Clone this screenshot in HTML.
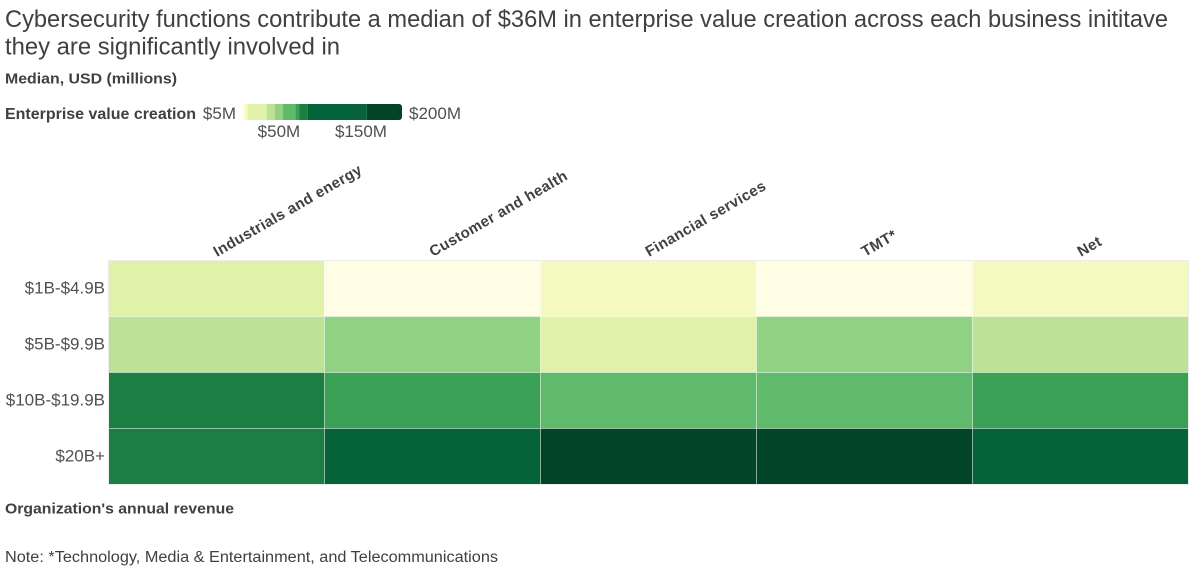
<!DOCTYPE html>
<html>
<head>
<meta charset="utf-8">
<title>Cybersecurity enterprise value heatmap</title>
<style>
html,body{margin:0;padding:0;background:#fff;width:1194px;height:569px;overflow:hidden}
svg{display:block}
text{font-family:"Liberation Sans",sans-serif;fill:#404040}
.b{font-weight:700}
.t{font-size:24px}
.m{font-size:17px;fill:#505050}
</style>
</head>
<body>
<svg id="chart" xmlns="http://www.w3.org/2000/svg" width="1194" height="569" viewBox="0 0 1194 569">
  <text class="t" x="5" y="27" textLength="1163" lengthAdjust="spacingAndGlyphs">Cybersecurity functions contribute a median of $36M in enterprise value creation across each business inititave</text>
  <text class="t" x="5" y="54.5" textLength="335" lengthAdjust="spacingAndGlyphs">they are significantly involved in</text>
  <text class="b" font-size="15" x="5" y="83.5" textLength="172" lengthAdjust="spacingAndGlyphs">Median, USD (millions)</text>
  <text class="b" font-size="15.5" x="5" y="119" textLength="191" lengthAdjust="spacingAndGlyphs">Enterprise value creation</text>
  <g id="legend"></g>
  <g id="xlabels"></g>
  <g id="ylabels"></g>
  <g id="cells"></g>
  <rect x="108.5" y="260.5" width="1080" height="224" fill="none" stroke="#ececec" stroke-width="1"></rect>
  <text class="b" font-size="15" x="5" y="513.5" textLength="229" lengthAdjust="spacingAndGlyphs">Organization's annual revenue</text>
  <text font-size="15.5" x="5" y="562" textLength="493" lengthAdjust="spacingAndGlyphs">Note: *Technology, Media &amp; Entertainment, and Telecommunications</text>
</svg>
<script>
var categories = ["Industrials and energy", "Customer and health", "Financial services", "TMT*", "Net"];
var revenueBands = ["$1B-$4.9B", "$5B-$9.9B", "$10B-$19.9B", "$20B+"];
var row1B = [20, 6, 11, 6, 11];
var row5B = [40, 50, 20, 50, 40];
var row10B = [80, 72, 60, 60, 72];
var row20B = [80, 120, 180, 180, 120];
var thresholds = [5, 9, 12, 35, 45, 55, 70, 75, 85, 157, 200];
var palette = ["#fffee4", "#f4f9c0", "#dff2a7", "#bce395", "#91d183", "#60ba6c", "#39a056", "#1c7e43", "#05633a", "#024428"];
var legendMinLabel = "$5M";
var legendMaxLabel = "$200M";
var legendTicks = [50, 150];
var legendTickLabels = ["$50M", "$150M"];

var NS = "http://www.w3.org/2000/svg";
var plotLeft = 108.5, plotTop = 260.5, cellW = 216, cellH = 56;
var legendLeft = 242, legendTop = 104, legendPxPerUnit = 160 / 195, legendH = 16;
var rows = [row1B, row5B, row10B, row20B];

function xScale(i) { return plotLeft + i * cellW; }
function yScale(j) { return plotTop + j * cellH; }
function legendX(v) { return legendLeft + (v - thresholds[0]) * legendPxPerUnit; }
function colorFor(v) {
  for (var k = 0; k < palette.length; k++) {
    if (v < thresholds[k + 1]) return palette[k];
  }
  return palette[palette.length - 1];
}
function make(tag, attrs, parent, txt) {
  var el = document.createElementNS(NS, tag);
  for (var a in attrs) el.setAttribute(a, attrs[a]);
  if (txt !== undefined) el.textContent = txt;
  parent.appendChild(el);
  return el;
}

var cellsG = document.getElementById("cells");
rows.forEach(function (row, j) {
  row.forEach(function (v, i) {
    var r = make("rect", { x: xScale(i), y: yScale(j), width: cellW, height: cellH, fill: colorFor(v), stroke: "rgba(255,255,255,0.42)", "stroke-width": 1 }, cellsG);
    
    
  });
});

var xG = document.getElementById("xlabels");
categories.forEach(function (c, i) {
  var px = xScale(i) + cellW / 2 + 0.5, py = 257;
  var t = make("text", { x: px, y: py, "class": "b", "font-size": 15, "letter-spacing": 0.4, transform: "rotate(-30 " + px + " " + py + ")" }, xG, c);
  
  
});

var yG = document.getElementById("ylabels");
revenueBands.forEach(function (c, j) {
  var t = make("text", { x: 105, y: yScale(j) + cellH / 2 + 5, "class": "m", "text-anchor": "end" }, yG, c);
  
  
});

var lg = document.getElementById("legend");
var defs = make("defs", {}, lg);
var clip = make("clipPath", { id: "legend-clip" }, defs);
make("rect", { x: legendX(thresholds[0]), y: legendTop, width: legendX(thresholds[thresholds.length - 1]) - legendX(thresholds[0]), height: legendH, rx: 3 }, clip);
var bandsG = make("g", { "clip-path": "url(#legend-clip)" }, lg);
palette.forEach(function (col, k) {
  var b = make("rect", { x: legendX(thresholds[k]), y: legendTop, width: legendX(thresholds[k + 1]) - legendX(thresholds[k]), height: legendH, fill: col }, bandsG);
  
  
});
var minL = make("text", { x: legendX(thresholds[0]) - 6, y: legendTop + 15, "class": "m", "text-anchor": "end" }, lg, legendMinLabel);


var maxL = make("text", { x: legendX(thresholds[thresholds.length - 1]) + 7, y: legendTop + 15, "class": "m" }, lg, legendMaxLabel);


legendTicks.forEach(function (v, k) {
  var t = make("text", { x: legendX(v), y: legendTop + 33, "class": "m", "text-anchor": "middle" }, lg, legendTickLabels[k]);
  
  
});
</script>
</body>
</html>
